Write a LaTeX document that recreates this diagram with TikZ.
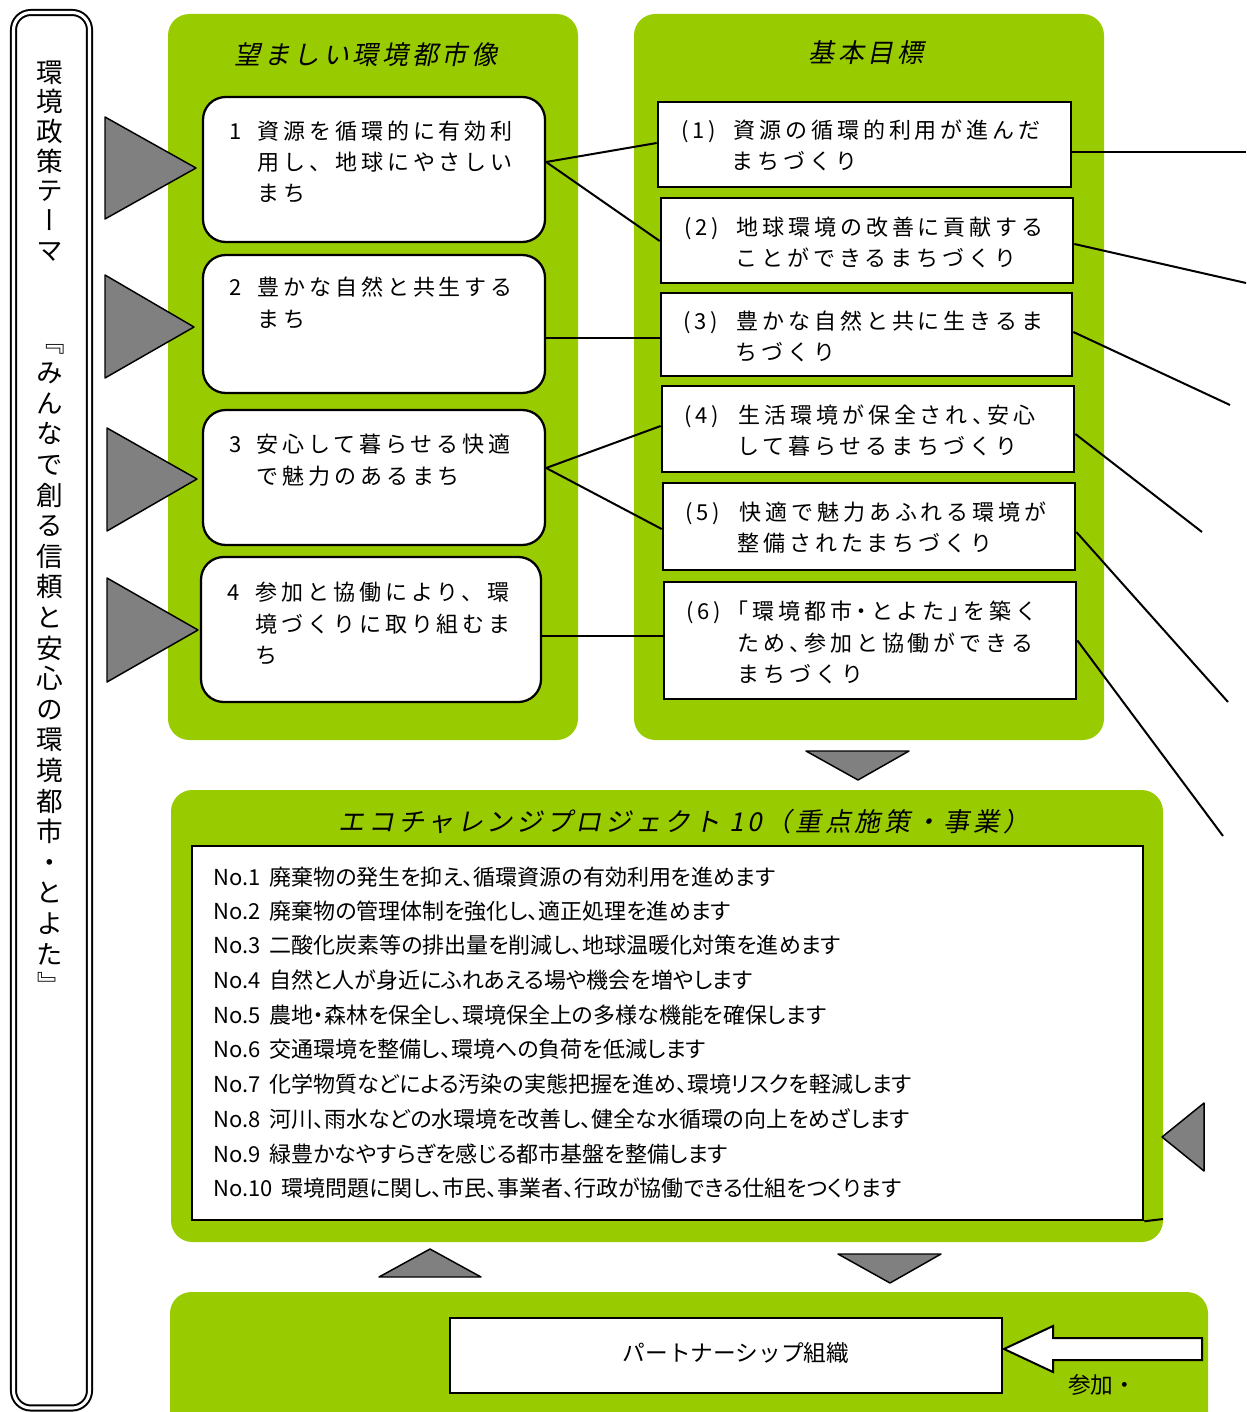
\documentclass[tikz,border=0pt]{standalone}
\usepackage{graphicx}
\usepackage{fontspec}
\setmainfont{Noto Sans CJK JP}
\newfontfamily\jpbox[LetterSpace=18]{Noto Sans CJK JP}
\newfontfamily\jpboxh[LetterSpace=18,RawFeature=+halt]{Noto Sans CJK JP}
\newfontfamily\jpital[FakeSlant=0.2,LetterSpace=14]{Noto Sans CJK JP}
\newfontfamily\jpvert[RawFeature=+vert]{Noto Sans CJK JP}
\newfontfamily\jplist[RawFeature=+palt]{Noto Sans CJK JP}
\usetikzlibrary{fit,calc}
\definecolor{leaf}{RGB}{153,204,0}
\definecolor{tgray}{RGB}{128,128,128}
\tikzset{
  panel/.style={fill=leaf, draw=none, rounded corners=16pt, inner sep=0pt},
  cbox/.style={draw=black, fill=white, line width=1.7pt, rounded corners=17pt, inner sep=0pt},
  rbox/.style={draw=black, fill=white, line width=2pt, inner sep=0pt},
  lbox/.style={draw=black, fill=white, line width=1.9pt, inner sep=0pt},
  tri/.style={fill=tgray, draw=black, line width=1.1pt, line join=round},
  conn/.style={draw=black, line width=1.5pt},
  btxt/.style={anchor=west, inner sep=0pt, text height=14.5pt, text depth=2pt,
    font=\jpbox\fontsize{16.5pt}{20pt}\selectfont},
  btxth/.style={btxt, font=\jpboxh\fontsize{16.5pt}{20pt}\selectfont},
  ttl/.style={anchor=center, inner sep=0pt, text height=17pt, text depth=2.3pt,
    font=\jpital\fontsize{19.5pt}{22pt}\selectfont},
  ltxt/.style={anchor=west, inner sep=0pt, text height=14.5pt, text depth=2pt,
    font=\jplist\fontsize{16.5pt}{19pt}\selectfont},
  vch/.style={anchor=center, inner sep=0pt, text height=17.6pt, text depth=2.4pt,
    font=\jpvert\fontsize{20pt}{23pt}\selectfont},
  vbr/.style={anchor=center, inner sep=0pt, font=\fontsize{20pt}{23pt}\selectfont},
  ptxt/.style={anchor=center, inner sep=0pt, text height=15pt, text depth=2pt,
    font=\fontsize{17pt}{20pt}\selectfont},
}
\begin{document}
\begin{tikzpicture}[x=0.75pt, y=-0.75pt]
\useasboundingbox (0,0) rectangle (1246,1412);
\clip (0,0) rectangle (1246,1412);

% left theme bar
\draw[line width=1.5pt, double=white, double distance=2.3pt, rounded corners=13pt, fill=white]
  (13.5,12.5) rectangle (89.5,1408);
\foreach \c [count=\i] in {環,境,政,策,テ,ー,マ}
  \node[vch] (va\i) at (50,{72+29.7*(\i-1)}) {\c};
\node[vbr] (vopen) at (53,342) {\rotatebox{-90}{『}};
\foreach \c [count=\i] in {み,ん,な,で,創,る,信,頼,と,安,心,の,環,境,都,市,・,と,よ,た}
  \node[vch] (vb\i) at (50,{342+30.6*\i}) {\c};
\node[vbr] (vclose) at (47,985) {\rotatebox{-90}{』}};

% green panels
\node[panel, fit={(168,14) (578,740)}] (p1) {};
\node[panel, fit={(634,14) (1104,740)}] (p2) {};
\node[panel, fit={(171,790) (1163,1242)}] (p3) {};
\node[panel, fit={(170,1292) (1208,1460)}] (p4) {};

% titles
\node[ttl] (t1) at (366,55) {望ましい環境都市像};
\node[ttl] (t2) at (866,53) {基本目標};
\node[ttl] (t3) at (684,822) {エコチャレンジプロジェクト 10（重点施策・事業）};

% left triangles
\draw[tri] (105,117) -- (196,168) -- (105,219) -- cycle;
\draw[tri] (105,275) -- (194,327) -- (105,378) -- cycle;
\draw[tri] (107,428) -- (197,479) -- (107,531) -- cycle;
\draw[tri] (107,578) -- (198,630) -- (107,682) -- cycle;

% city image boxes
\node[cbox, fit={(203,97) (545,242)}] (b1) {};
\node[cbox, fit={(203,255) (545,393)}] (b2) {};
\node[cbox, fit={(203,410) (545,545)}] (b3) {};
\node[cbox, fit={(201,557) (541,702)}] (b4) {};

% goal boxes
\node[rbox, fit={(658,102) (1071,187)}] (r1) {};
\node[rbox, fit={(661,198) (1073,283)}] (r2) {};
\node[rbox, fit={(661,293) (1072,376)}] (r3) {};
\node[rbox, fit={(662,386) (1074,472)}] (r4) {};
\node[rbox, fit={(663,483) (1075,570)}] (r5) {};
\node[rbox, fit={(664,582) (1076,699)}] (r6) {};

% texts of city image boxes
\node[btxt] (b1n) at (229,131) {1};
\node[btxt] (b1a) at (257,131) {資源を循環的に有効利};
\node[btxt] (b1b) at (257,162) {用し、地球にやさしい};
\node[btxt] (b1c) at (257,193) {まち};
\node[btxt] (b2n) at (229,287) {2};
\node[btxt] (b2a) at (257,287) {豊かな自然と共生する};
\node[btxt] (b2b) at (257,319) {まち};
\node[btxt] (b3n) at (229,444) {3};
\node[btxt] (b3a) at (256,444) {安心して暮らせる快適};
\node[btxt] (b3b) at (256,476) {で魅力のあるまち};
\node[btxt] (b4n) at (227,592) {4};
\node[btxt] (b4a) at (255,592) {参加と協働により、環};
\node[btxt] (b4b) at (255,624) {境づくりに取り組むま};
\node[btxt] (b4c) at (255,655) {ち};

% texts of goal boxes
\node[btxt] (r1n) at (681,130) {(1)};
\node[btxt] (r1a) at (733,130) {資源の循環的利用が進んだ};
\node[btxt] (r1b) at (731,161) {まちづくり};
\node[btxt] (r2n) at (684,227) {(2)};
\node[btxt] (r2a) at (736,227) {地球環境の改善に貢献する};
\node[btxt] (r2b) at (735,258) {ことができるまちづくり};
\node[btxt] (r3n) at (683,321) {(3)};
\node[btxt] (r3a) at (736,321) {豊かな自然と共に生きるま};
\node[btxt] (r3b) at (735,352) {ちづくり};
\node[btxt] (r4n) at (684,415) {(4)};
\node[btxth] (r4a) at (738,415) {生活環境が保全され、安心};
\node[btxt] (r4b) at (737,446) {して暮らせるまちづくり};
\node[btxt] (r5n) at (685,512) {(5)};
\node[btxt] (r5a) at (739,512) {快適で魅力あふれる環境が};
\node[btxt] (r5b) at (737,543) {整備されたまちづくり};
\node[btxt] (r6n) at (686,611) {(6)};
\node[btxth] (r6a) at (737,611) {「環境都市・とよた」を築く};
\node[btxth] (r6b) at (737,643) {ため、参加と協働ができる};
\node[btxt] (r6c) at (737,674) {まちづくり};

% connectors between city image and goals
\draw[conn] ($(b1.east)+(0,-7.5)$) -- ($(r1.west)+(0,-1.5)$);
\draw[conn] ($(b1.east)+(0,-7.5)$) -- ($(r2.west)+(0,0.5)$);
\draw[conn] ($(b2.east)+(0,14)$) -- ($(r3.west)+(0,3.5)$);
\draw[conn] ($(b3.east)+(0,-9.5)$) -- ($(r4.west)+(0,-3)$);
\draw[conn] ($(b3.east)+(0,-9.5)$) -- ($(r5.west)+(0,2.5)$);
\draw[conn] ($(b4.east)+(0,6.5)$) -- ($(r6.west)+(0,-4.5)$);

% outgoing lines to the right
\coordinate (e1) at (1246,152);
\coordinate (e2) at (1246,283);
\coordinate (e3) at (1230,405);
\coordinate (e4) at (1202,532);
\coordinate (e5) at (1228,702);
\coordinate (e6) at (1223,836);
\draw[conn] ($(r1.east)+(0,7.5)$) -- (e1);
\draw[conn] ($(r2.east)+(0,3.5)$) -- (e2);
\draw[conn] ($(r3.east)+(0,-2.5)$) -- (e3);
\draw[conn] ($(r4.east)+(0,5)$) -- (e4);
\draw[conn] ($(r5.east)+(0,5.5)$) -- (e5);
\draw[conn] (r6.east) -- (e6);

% middle triangles
\draw[tri] (806,751) -- (909,751) -- (858,780) -- cycle;
\draw[tri] (379,1277) -- (481,1277) -- (430,1249) -- cycle;
\draw[tri] (838,1254) -- (941,1254) -- (890,1283) -- cycle;
\draw[tri] (1162,1137) -- (1204,1103) -- (1204,1171) -- cycle;

% project list
\node[lbox, fit={(192,846) (1143,1220)}] (lst) {};
\draw[conn] (lst.south east) -- (1163,1219);
\node[ltxt] (l1) at (213,877) {No.1\hspace{0.4em}廃棄物の発生を抑え、循環資源の有効利用を進めます};
\node[ltxt] (l2) at (213,911) {No.2\hspace{0.4em}廃棄物の管理体制を強化し、適正処理を進めます};
\node[ltxt] (l3) at (213,945) {No.3\hspace{0.4em}二酸化炭素等の排出量を削減し、地球温暖化対策を進めます};
\node[ltxt] (l4) at (213,980) {No.4\hspace{0.4em}自然と人が身近にふれあえる場や機会を増やします};
\node[ltxt] (l5) at (213,1015) {No.5\hspace{0.4em}農地・森林を保全し、環境保全上の多様な機能を確保します};
\node[ltxt] (l6) at (213,1049) {No.6\hspace{0.4em}交通環境を整備し、環境への負荷を低減します};
\node[ltxt] (l7) at (213,1084) {No.7\hspace{0.4em}化学物質などによる汚染の実態把握を進め、環境リスクを軽減します};
\node[ltxt] (l8) at (213,1119) {No.8\hspace{0.4em}河川、雨水などの水環境を改善し、健全な水循環の向上をめざします};
\node[ltxt] (l9) at (213,1154) {No.9\hspace{0.4em}緑豊かなやすらぎを感じる都市基盤を整備します};
\node[ltxt] (l10) at (213,1188) {No.10\hspace{0.4em}環境問題に関し、市民、事業者、行政が協働できる仕組をつくります};

% partnership
\node[lbox, fit={(450,1318) (1002,1393)}] (ps) {};
\node[ptxt] (pst) at (736,1353) {パートナーシップ組織};
\draw[fill=white, draw=black, line width=1.5pt, line join=miter]
  (1004,1349) -- (1053,1326) -- (1053,1338) -- (1202,1338) -- (1202,1360)
  -- (1053,1360) -- (1053,1372) -- cycle;
\node[ptxt, anchor=west] (sanka) at (1068,1385) {参加・};
\end{tikzpicture}
\end{document}
